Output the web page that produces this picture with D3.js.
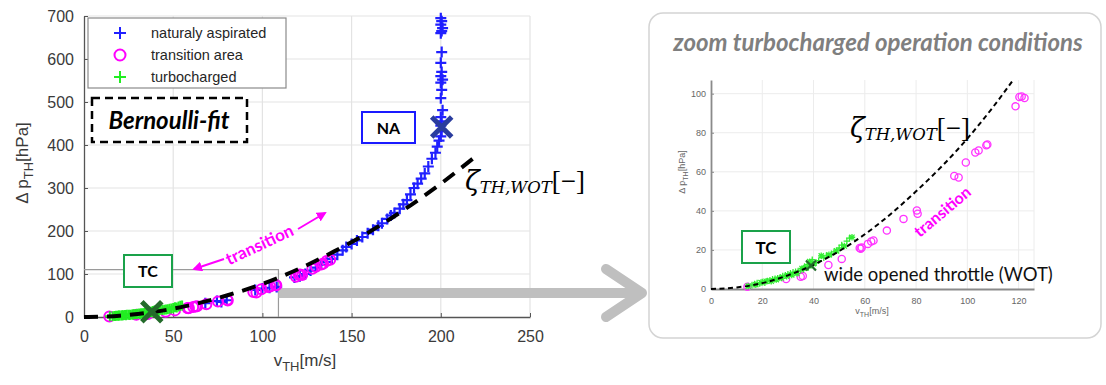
<!DOCTYPE html>
<html><head><meta charset="utf-8">
<script src="https://cdn.jsdelivr.net/npm/d3@7"></script>
<style>body{margin:0;background:#fff}svg{display:block}</style>
</head><body>
<svg id="c" width="1106" height="385"></svg>
<script>
// ---------- data ----------
const xTicksLeft = [0, 50, 100, 150, 200, 250];
const yTicksLeft = [0, 100, 200, 300, 400, 500, 600, 700];
const xTicksRight = [0, 20, 40, 60, 80, 100, 120];
const yTicksRight = [0, 20, 40, 60, 80, 100];
const legendLabels = ["naturaly aspirated", "transition area", "turbocharged"];

// naturally aspirated [v m/s, dp hPa]
const naPoints = [
 [68,32],[74.5,37],[80,39],[77,35],[96,63],[100,66],[104,68],[108,70],
 [118,92],[121,95],[124,100],[127,108],[130,115],[133,122],[136,128],[139,135],
 [142,145],[145,155],[147,163],[150,170],[153,178],[156,186],[159,195],[162,203],
 [165,212],[167,218],[170,228],[172,236],[174,242],[177,252],[179,262],[181,272],
 [183,285],[185,300],[187,310],[189,322],[191,334],[193,350],[195,368],[197,382],
 [198,396],[199,410],[200,420],[200.5,432],[200,445],[200.5,455],[200,465],[201,481],
 [200,509],[200.5,528],[200,545],[201,552],[200,560],[200.5,570],[200,591],[200.5,616],
 [200,660],[200.5,665],[201,672],[200,680],[200.5,688],[200,695]
];
// transition area
const trPoints = [
 [14.2,1.2],[29.3,5.1],[35,6.3],[35.8,6.7],[45.8,12.3],[51,15.4],[58,21],[58.4,20.6],
 [58.8,21.2],[61.2,23.1],[62.5,24.3],[63.4,24.8],[68.6,29.9],[75.1,35.9],[80.3,40.2],
 [80.6,38.5],[94.9,57.9],[96.6,57.1],[99.4,64.8],[103.1,69.9],[104.4,70.9],[107.4,73.6],
 [107.8,74],[118.8,93.5],[120.3,98.3],[121.2,98.6],[122.3,97.8],[128,112],[130,117],
 [133,122],[134,124],[136,130],[138,133]
];
// turbocharged
const tcPoints = [
 [14.5,1.5],[16,2],[17,2.5],[17.5,2.2],[18,3],[19,2.8],[19.5,3.3],[20,3.5],[21,3.2],
 [21.5,4],[22,4.1],[23,4.5],[23.5,4],[24,5],[25,5.2],[25.5,4.8],[26,5.5],[27,6],
 [27.5,5.6],[28,6.6],[29,7],[29.5,6.5],[30,7.5],[31,8],[31.5,7.2],[32,8.5],[33,8.8],
 [33.5,8],[34,9.2],[35,9.6],[35.5,10.5],[36,10],[36.5,11.5],[37,10.8],[37.5,12.5],
 [38,11.2],[38.5,14],[39,12],[39.5,15],[40,13],[41,13.5],[42,14.5],[43,17],[44,16],
 [45,17],[46,17.5],[47,18],[48,19],[49,19.5],[50,21],[51,22.5],[52,22],[53,24.5],
 [54,26],[55,26.5]
];
// Bernoulli fit curve
const fitV  = [0, 10, 20, 30, 40, 60, 80, 100, 120, 140, 160, 180, 200, 220];
const fitDp = [0, 0.8, 3, 7, 12.4, 28, 50, 77, 111, 152, 198, 251, 310, 375];
// operating points (WOT)
const wotNA = [200.5, 442];
const wotTC = [38, 12];

// ---------- drawing ----------
const svg = d3.select("#c");
const SANS = "'Liberation Sans', Arial, sans-serif";
const CAL = "Lato, 'Open Sans', sans-serif";
const fit = fitV.map((v,i)=>[v, fitDp[i]]);
const plusPath = r => `M${-r},0H${r}M0,${-r}V${r}`;
const xPath = r => `M${-r},${-r}L${r},${r}M${-r},${r}L${r},${-r}`;

// ===== left chart =====
const xL = d3.scaleLinear().domain([0,250]).range([84,530]);
const yL = d3.scaleLinear().domain([0,700]).range([317,16]);
const gL = svg.append("g");
gL.append("g").selectAll("line").data(xTicksLeft.slice(1)).join("line")
  .attr("x1",d=>xL(d)).attr("x2",d=>xL(d)).attr("y1",yL(0)).attr("y2",yL(700))
  .attr("stroke","#e3e3e3").attr("stroke-width",1.2);
gL.append("g").selectAll("line").data(yTicksLeft.slice(1)).join("line")
  .attr("y1",d=>yL(d)).attr("y2",d=>yL(d)).attr("x1",xL(0)).attr("x2",xL(250))
  .attr("stroke","#e3e3e3").attr("stroke-width",1.2);
const axL = gL.append("g").attr("transform",`translate(0,${yL(0)})`)
  .call(d3.axisBottom(xL).tickValues(xTicksLeft).tickSize(4).tickSizeOuter(0));
const ayL = gL.append("g").attr("transform",`translate(${xL(0)},0)`)
  .call(d3.axisLeft(yL).tickValues(yTicksLeft).tickSize(4).tickSizeOuter(0));
[axL, ayL].forEach(a=>{
  a.select(".domain").attr("stroke","#555").attr("stroke-width",1.3);
  a.selectAll(".tick line").attr("stroke","#555");
  a.selectAll(".tick text").attr("font-family",SANS).attr("font-size",16).attr("fill","#3a3a3a");
});
axL.selectAll(".tick line").attr("y2",-4);
ayL.selectAll(".tick line").attr("x2",4);
axL.selectAll(".tick text").attr("dy","1.15em");
ayL.selectAll(".tick text").attr("x",-10);
// zoom rectangle
gL.append("path").attr("d",`M${xL(0)},${yL(110)}H${xL(109)}V${yL(0)}`)
  .attr("fill","none").attr("stroke","#9a9a9a").attr("stroke-width",1.2);
// big grey arrow
gL.append("line").attr("x1",xL(109)).attr("x2",640).attr("y1",293).attr("y2",293)
  .attr("stroke","#bfbfbf").attr("stroke-width",10);
gL.append("path").attr("d","M606,269L642,293L606,317")
  .attr("fill","none").attr("stroke","#bfbfbf").attr("stroke-width",10)
  .attr("stroke-linecap","round").attr("stroke-linejoin","round");
// markers
gL.append("g").selectAll("path").data(naPoints).join("path")
  .attr("transform",d=>`translate(${xL(d[0])},${yL(d[1])})`).attr("d",plusPath(5.5))
  .attr("stroke","#2020ff").attr("stroke-width",2.2).attr("fill","none");
gL.append("g").selectAll("circle").data(trPoints).join("circle")
  .attr("cx",d=>xL(d[0])).attr("cy",d=>yL(d[1])).attr("r",5)
  .attr("stroke","#ff00ff").attr("stroke-width",2).attr("fill","none");
gL.append("g").selectAll("path").data(tcPoints).join("path")
  .attr("transform",d=>`translate(${xL(d[0])},${yL(d[1])})`).attr("d",plusPath(5))
  .attr("stroke","#22ee22").attr("stroke-width",2).attr("fill","none");
const lineL = d3.line().x(d=>xL(d[0])).y(d=>yL(d[1])).curve(d3.curveMonotoneX);
gL.append("path").attr("d",lineL(fit)).attr("fill","none").attr("stroke","#000")
  .attr("stroke-width",4).attr("stroke-dasharray","14,9");
gL.append("path").attr("transform",`translate(${xL(wotNA[0])},${yL(wotNA[1])})`)
  .attr("d",xPath(10)).attr("stroke","#2a3c9e").attr("stroke-width",5);
gL.append("path").attr("transform",`translate(${xL(wotTC[0])},${yL(wotTC[1])})`)
  .attr("d",xPath(10)).attr("stroke","#236b2a").attr("stroke-width",5);
// axis labels
const ylab = gL.append("text").attr("transform","translate(28,163) rotate(-90)")
  .attr("text-anchor","middle").attr("font-family",SANS).attr("font-size",17).attr("fill","#3a3a3a");
ylab.append("tspan").text("Δ p");
ylab.append("tspan").attr("font-size",13).attr("dy",5).text("TH");
ylab.append("tspan").attr("dy",-5).text("[hPa]");
const xlab = gL.append("text").attr("x",305).attr("y",366)
  .attr("text-anchor","middle").attr("font-family",SANS).attr("font-size",17).attr("fill","#3a3a3a");
xlab.append("tspan").text("v");
xlab.append("tspan").attr("font-size",13).attr("dy",5).text("TH");
xlab.append("tspan").attr("dy",-5).text("[m/s]");
// legend
const lg = gL.append("g");
lg.append("rect").attr("x",88).attr("y",18).attr("width",198).attr("height",70)
  .attr("fill","#fff").attr("stroke","#8a8a8a").attr("stroke-width",1.2);
const lgMark = [
  s=>s.append("path").attr("d",plusPath(6)).attr("stroke","#2020ff").attr("stroke-width",2),
  s=>s.append("circle").attr("r",5.5).attr("stroke","#ff00ff").attr("stroke-width",2).attr("fill","none"),
  s=>s.append("path").attr("d",plusPath(6)).attr("stroke","#22ee22").attr("stroke-width",2)
];
legendLabels.forEach((t,i)=>{
  const row = lg.append("g").attr("transform",`translate(120,${33+i*22})`);
  lgMark[i](row);
  row.append("text").attr("x",31).attr("y",5).attr("font-family",SANS).attr("font-size",14.5)
    .attr("fill","#262626").text(t);
});
// Bernoulli-fit box
gL.append("rect").attr("x",92).attr("y",98).attr("width",155).attr("height",44)
  .attr("fill","#fff").attr("stroke","#000").attr("stroke-width",2.5).attr("stroke-dasharray","8,5");
gL.append("text").attr("x",169).attr("y",129).attr("text-anchor","middle")
  .attr("font-family",CAL).attr("font-weight","bold").attr("font-style","italic")
  .attr("font-size",24).attr("fill","#000").text("Bernoulli-fit");
// NA box
gL.append("rect").attr("x",362).attr("y",112).attr("width",53).attr("height",31)
  .attr("fill","#fff").attr("stroke","#1a1aff").attr("stroke-width",2);
gL.append("text").attr("x",388.5).attr("y",134).attr("text-anchor","middle")
  .attr("font-family",CAL).attr("font-weight","bold").attr("font-size",16).text("NA");
// TC box left
gL.append("rect").attr("x",124).attr("y",255).attr("width",48).attr("height",32)
  .attr("fill","#fff").attr("stroke","#1aa24a").attr("stroke-width",2);
gL.append("text").attr("x",148).attr("y",277).attr("text-anchor","middle")
  .attr("font-family",CAL).attr("font-weight","bold").attr("font-size",16).text("TC");
// transition annotation
const mag = "#ff00ff";
svg.append("defs").append("marker").attr("id","ah").attr("viewBox","0 0 10 10")
  .attr("refX",8).attr("refY",5).attr("markerWidth",5).attr("markerHeight",5).attr("orient","auto")
  .append("path").attr("d","M0,0L10,5L0,10z").attr("fill",mag);
gL.append("line").attr("x1",224).attr("y1",259).attr("x2",194).attr("y2",269)
  .attr("stroke",mag).attr("stroke-width",2).attr("marker-end","url(#ah)");
gL.append("line").attr("x1",298).attr("y1",229).attr("x2",325).attr("y2",213)
  .attr("stroke",mag).attr("stroke-width",2).attr("marker-end","url(#ah)");
gL.append("text").attr("transform","translate(262,250) rotate(-25)").attr("text-anchor","middle")
  .attr("font-family",CAL).attr("font-weight","bold").attr("font-size",17).attr("fill",mag).text("transition");
// zeta label
function zeta(g, x, y, big, small){
  const t = g.append("text").attr("x",x).attr("y",y).attr("font-family","'DejaVu Serif', 'Liberation Serif', serif")
    .attr("fill","#000");
  t.append("tspan").attr("font-style","italic").attr("font-size",big).text("ζ");
  t.append("tspan").attr("font-style","italic").attr("font-size",small).attr("dy",3).text("TH,WOT");
  t.append("tspan").attr("font-size",big).attr("dy",-3).attr("font-family","'Liberation Serif', serif").text("[−]");
}
zeta(gL, 465, 190, 27, 16.5);

// ===== right panel =====
const gR = svg.append("g");
gR.append("rect").attr("x",649).attr("y",13).attr("width",452).attr("height",325).attr("rx",14)
  .attr("fill","#fff").attr("stroke","#d4d4d4").attr("stroke-width",1.5);
gR.append("text").attr("x",878).attr("y",51).attr("text-anchor","middle")
  .attr("font-family",CAL).attr("font-weight","bold").attr("font-style","italic")
  .attr("font-size",24).attr("fill","#7f7f7f").text("zoom turbocharged operation conditions");
const xR = d3.scaleLinear().domain([0,126]).range([711,1034]);
const yR = d3.scaleLinear().domain([0,107]).range([289,80]);
gR.append("g").selectAll("line").data(xTicksRight.slice(1).concat([126])).join("line")
  .attr("x1",d=>xR(d)).attr("x2",d=>xR(d)).attr("y1",yR(0)).attr("y2",yR(107))
  .attr("stroke","#ececec").attr("stroke-width",1);
gR.append("g").selectAll("line").data(yTicksRight.slice(1)).join("line")
  .attr("y1",d=>yR(d)).attr("y2",d=>yR(d)).attr("x1",xR(0)).attr("x2",xR(126))
  .attr("stroke","#ececec").attr("stroke-width",1);
const axR = gR.append("g").attr("transform",`translate(0,${yR(0)})`)
  .call(d3.axisBottom(xR).tickValues(xTicksRight).tickSize(0).tickSizeOuter(0));
const ayR = gR.append("g").attr("transform",`translate(${xR(0)},0)`)
  .call(d3.axisLeft(yR).tickValues(yTicksRight).tickSize(3).tickSizeOuter(0));
[axR, ayR].forEach(a=>{
  a.select(".domain").attr("stroke","#8a8a8a").attr("stroke-width",1.8);
  a.selectAll(".tick line").attr("stroke","#8a8a8a");
  a.selectAll(".tick text").attr("font-family",SANS).attr("font-size",9).attr("fill","#666");
});
axR.selectAll(".tick text").attr("dy","1.3em");
ayR.selectAll(".tick text").attr("x",-5);
ayR.selectAll(".tick line").attr("x2",3);
const ylabR = gR.append("text").attr("transform","translate(685,172) rotate(-90)")
  .attr("text-anchor","middle").attr("font-family",SANS).attr("font-size",9).attr("fill","#666");
ylabR.append("tspan").text("Δ p");
ylabR.append("tspan").attr("font-size",7).attr("dy",3).text("TH");
ylabR.append("tspan").attr("dy",-3).text("[hPa]");
const xlabR = gR.append("text").attr("x",872).attr("y",314)
  .attr("text-anchor","middle").attr("font-family",SANS).attr("font-size",9).attr("fill","#666");
xlabR.append("tspan").text("v");
xlabR.append("tspan").attr("font-size",7).attr("dy",3).text("TH");
xlabR.append("tspan").attr("dy",-3).text("[m/s]");
svg.append("defs").append("clipPath").attr("id","cr").append("rect")
  .attr("x",xR(0)).attr("y",yR(107)).attr("width",xR(126)-xR(0)+6).attr("height",yR(0)-yR(107)+6);
const pr = gR.append("g").attr("clip-path","url(#cr)");
const lineR = d3.line().x(d=>xR(d[0])).y(d=>yR(d[1])).curve(d3.curveMonotoneX);
pr.append("g").selectAll("circle").data(trPoints.filter(d=>d[0]<=126)).join("circle")
  .attr("cx",d=>xR(d[0])).attr("cy",d=>yR(d[1])).attr("r",3.6)
  .attr("stroke","#ff33ff").attr("stroke-width",1.3).attr("fill","none");
pr.append("g").selectAll("path").data(tcPoints).join("path")
  .attr("transform",d=>`translate(${xR(d[0])},${yR(d[1])})`)
  .attr("d",(d,i)=> i%3===0 ? xPath(2.6)+plusPath(3.2) : plusPath(3.3))
  .attr("stroke","#33ee33").attr("stroke-width",1.3).attr("fill","none");
pr.append("path").attr("d",lineR(fit)).attr("fill","none").attr("stroke","#000")
  .attr("stroke-width",2).attr("stroke-dasharray","5,3.5");
pr.append("path").attr("transform",`translate(${xR(wotTC[0]+1)},${yR(wotTC[1])})`)
  .attr("d",xPath(5)).attr("stroke","#236b2a").attr("stroke-width",2.2);
// annotations right
gR.append("rect").attr("x",742).attr("y",231).attr("width",48).attr("height",32)
  .attr("fill","#fff").attr("stroke","#1aa24a").attr("stroke-width",2);
gR.append("text").attr("x",766).attr("y",254).attr("text-anchor","middle")
  .attr("font-family",CAL).attr("font-weight","bold").attr("font-size",17).text("TC");
gR.append("text").attr("x",824).attr("y",281).attr("font-family",CAL).attr("font-size",18.5)
  .attr("fill","#111").text("wide opened throttle (WOT)");
gR.append("text").attr("transform","translate(946,216) rotate(-40)").attr("text-anchor","middle")
  .attr("font-family",CAL).attr("font-weight","bold").attr("font-size",16).attr("fill",mag).text("transition");
zeta(gR, 850, 137, 27, 16.5);
</script>
</body></html>
